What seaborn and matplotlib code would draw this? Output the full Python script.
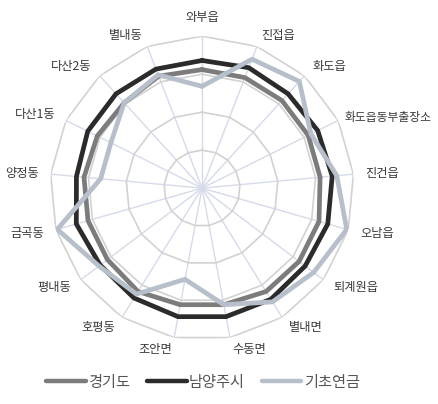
import numpy as np
import pandas as pd
import seaborn as sns
import matplotlib.pyplot as plt
from matplotlib.lines import Line2D

categories = ['와부읍', '진접읍', '화도읍', '화도읍동부출장소', '진건읍', '오남읍', '퇴계원읍',
              '별내면', '수동면', '조안면', '호평동', '평내동', '금곡동', '양정동',
              '다산1동', '다산2동', '별내동']
gyeonggi = [0.78, 0.78, 0.78, 0.78, 0.78, 0.80, 0.80, 0.80, 0.78, 0.78, 0.80, 0.78,
            0.78, 0.78, 0.77, 0.76, 0.79]
namyangju = [0.84, 0.85, 0.84, 0.85, 0.86, 0.86, 0.85, 0.86, 0.86, 0.86, 0.85, 0.84,
             0.86, 0.83, 0.84, 0.84, 0.84]
pension = [0.67, 0.91, 0.95, 0.80, 0.89, 0.99, 0.92, 0.88, 0.78, 0.61, 0.82, 0.85,
           0.99, 0.67, 0.67, 0.76, 0.80]
series_names = ['경기도', '남양주시', '기초연금']
series_colors = ['#7c7c7c', '#2b2b2b', '#b7bfcb']
ring_levels = [0.25, 0.5, 0.75, 1.0]

sns.set_style('white')
plt.rcParams['font.family'] = ['Noto Sans CJK KR', 'DejaVu Sans']

n = len(categories)
angles = np.linspace(0, 2 * np.pi, n, endpoint=False)
closed = np.append(angles, angles[0])

# long table, each loop closed back on its first point
rows = []
for name, vals in zip(series_names, [gyeonggi, namyangju, pension]):
    v = list(vals) + [vals[0]]
    for k, (t, r) in enumerate(zip(closed, v)):
        rows.append({'series': name, 'theta': t, 'value': r, 'order': k})
df = pd.DataFrame(rows)

fig = plt.figure(figsize=(4.39, 4.04), dpi=100)
ax = fig.add_axes([0.114, 0.158, 0.6925, 0.7525], projection='polar')
ax.set_theta_offset(np.pi / 2)
ax.set_theta_direction(-1)
ax.set_ylim(0, 1)

# polygon grid
ax.yaxis.grid(False)
ax.set_yticks([])
ax.spines['polar'].set_visible(False)
ax.set_xticks(angles)
ax.set_xticklabels([])
ax.xaxis.grid(True, color='#d6dbea', lw=1.0)
for lv in ring_levels:
    ax.plot(closed, [lv] * len(closed), color='#d2d2d2', lw=1.2, zorder=1)

sns.lineplot(data=df, x='theta', y='value', hue='series', hue_order=series_names,
             palette=series_colors, sort=False, estimator=None, units='series',
             linewidth=3.4, legend=False, ax=ax, zorder=3)
ax.set_xlabel('')
ax.set_ylabel('')

for t, lab in zip(angles, categories):
    s = np.sin(t)
    if abs(s) < 0.1:
        ha, r = 'center', 1.12
    else:
        ha, r = ('left' if s > 0 else 'right'), 1.08
    fs = 8.8
    if len(lab) > 6:
        r, fs = 1.05, 8.5
    ax.text(t, r, lab, ha=ha, va='center', fontsize=fs, color='#383838',
            fontweight='medium')

handles = [Line2D([], [], color=c, lw=3.2) for c in series_colors]
fig.legend(handles, series_names, loc='center', bbox_to_anchor=(0.462, 0.054),
           ncol=3, frameon=False, fontsize=11, handlelength=2.6, handletextpad=0.15,
           columnspacing=1.1, labelcolor='#555555')

fig.savefig('out.png', dpi=100)
